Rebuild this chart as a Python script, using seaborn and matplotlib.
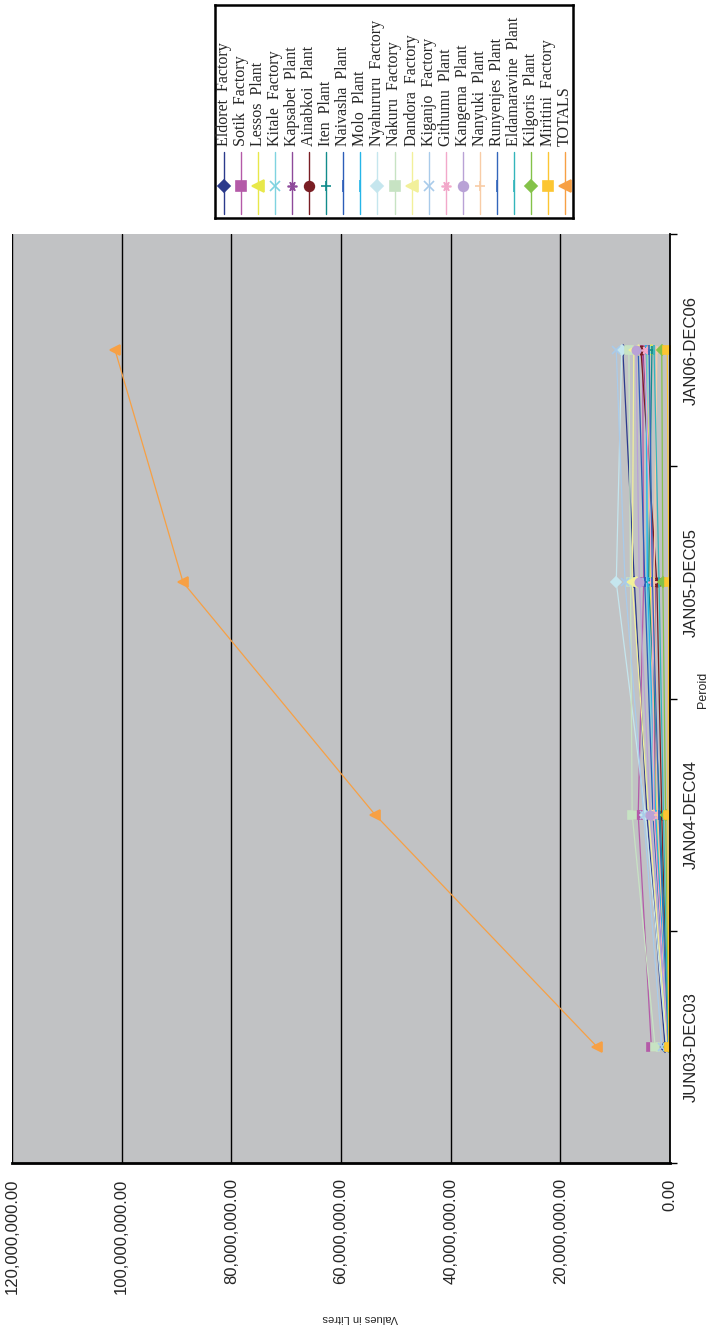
import numpy as np
import pandas as pd
import matplotlib
matplotlib.use("Agg")
import matplotlib.pyplot as plt
from matplotlib.ticker import FuncFormatter, FixedLocator
import seaborn as sns

# ---- data (litres) ----
periods = ["JUN03-DEC03", "JAN04-DEC04", "JAN05-DEC05", "JAN06-DEC06"]

plants = ["Eldoret  Factory", "Sotik  Factory", "Lessos  Plant", "Kitale  Factory",
          "Kapsabet  Plant", "Ainabkoi  Plant", "Iten  Plant", "Naivasha  Plant",
          "Molo  Plant", "Nyahururu  Factory", "Nakuru  Factory", "Dandora  Factory",
          "Kiganjo  Factory", "Githumu  Plant", "Kangema  Plant", "Nanyuki  Plant",
          "Runyenjes  Plant", "Eldamaravine  Plant", "Kilgoris  Plant",
          "Miritini  Factory", "TOTALS"]

# millions of litres per period, one list per plant
eldoret      = [0.9, 4.2, 6.5, 8.6]
sotik        = [3.4, 5.8, 4.8, 5.0]
lessos       = [0.3, 2.5, 3.6, 4.2]
kitale       = [0.6, 3.0, 4.3, 4.0]
kapsabet     = [0.4, 2.8, 2.7, 4.9]
ainabkoi     = [0.4, 1.5, 2.4, 5.3]
iten         = [0.3, 1.8, 3.9, 3.3]
naivasha     = [0.3, 3.1, 4.6, 5.8]
molo         = [0.3, 2.6, 4.1, 4.4]
nyahururu    = [0.6, 4.5, 9.8, 8.8]
nakuru       = [2.7, 6.9, 7.2, 7.5]
dandora      = [0.5, 3.9, 6.9, 6.6]
kiganjo      = [1.5, 4.8, 8.2, 9.8]
githumu      = [0.4, 2.9, 3.3, 4.6]
kangema      = [0.3, 3.6, 5.6, 6.2]
nanyuki      = [0.3, 2.2, 2.9, 2.4]
runyenjes    = [0.3, 2.0, 3.2, 3.8]
eldamaravine = [0.3, 1.2, 2.0, 2.9]
kilgoris     = [0.2, 0.8, 1.3, 1.5]
miritini     = [0.2, 0.4, 0.2, 0.5]
totals       = [13.3, 53.8, 88.8, 101.2]

series_values = [eldoret, sotik, lessos, kitale, kapsabet, ainabkoi, iten, naivasha,
                 molo, nyahururu, nakuru, dandora, kiganjo, githumu, kangema, nanyuki,
                 runyenjes, eldamaravine, kilgoris, miritini, totals]

value_ticks = [0, 20e6, 40e6, 60e6, 80e6, 100e6, 120e6]

colors = ["#2B3A8C", "#B45AA8", "#E8E84A", "#7FD3E0", "#8E4A9A", "#7A1E24", "#128C8C",
          "#2C5DB8", "#25B5E8", "#C5E6EE", "#C7E3C3", "#F2F09A", "#A9CBEA", "#F2A8CA",
          "#B9A2D6", "#F8CCA6", "#3366BB", "#33B5BB", "#84C249", "#FCC632", "#F7A044"]
star = (6, 2, 90)
markers = ["D", "s", "<", "x", star, "o", "+", "|", "|",
           "D", "s", "<", "x", star, "o", "+", "|", "|",
           "D", "s", "<"]
msizes = [5, 6, 7, 6, 6, 6, 6, 7, 7, 5, 6, 7, 6, 6, 6, 6, 7, 7, 5, 6, 7]

rows = []
for name, vals in zip(plants, series_values):
    for i, (p, v) in enumerate(zip(periods, vals)):
        rows.append({"plant": name, "period": p, "pos": i + 1, "litres": v * 1e6})
df = pd.DataFrame(rows)

# ---- figure ----
sns.set_style("white")
plt.rcParams["font.family"] = ["Liberation Sans", "DejaVu Sans"]

W, H = 711, 1331
fig = plt.figure(figsize=(W / 100, H / 100), dpi=100)
fig.patch.set_facecolor("white")

def box(x0, y0, x1, y1):
    return [x0 / W, 1 - y1 / H, (x1 - x0) / W, (y1 - y0) / H]

ax = fig.add_axes(box(12, 234, 670, 1163))
ax.set_facecolor("#C1C2C4")

for name, col, mk, ms in zip(plants, colors, markers, msizes):
    sub = df[df["plant"] == name]
    sns.lineplot(data=sub, x="litres", y="pos", orient="y", sort=False,
                 color=col, marker=mk, markersize=ms, markeredgecolor=col,
                 markeredgewidth=1.2, linewidth=0.9, ax=ax, legend=False,
                 errorbar=None)

# value axis: horizontal, running from 120M on the left to 0 on the right
ax.set_xlim(120e6, 0)
ax.xaxis.set_major_locator(FixedLocator(value_ticks))
ax.xaxis.set_major_formatter(FuncFormatter(lambda v, _: f"{v:,.2f}"))
ax.grid(axis="x", color="black", linewidth=1.0)
ax.grid(axis="y", visible=False)
ax.tick_params(axis="x", direction="out", length=5, width=1.3, color="black",
               labelsize=12, labelrotation=90, pad=6)
for t in ax.get_xticklabels():
    t.set_va("top")

# category axis: vertical on the right
ax.set_ylim(0.5, 4.5)
ax.yaxis.tick_right()
ax.set_yticks([0.5, 1.5, 2.5, 3.5, 4.5])
ax.set_yticklabels([])
ax.set_yticks([1, 2, 3, 4], minor=True)
ax.set_yticklabels(periods, minor=True)
ax.tick_params(axis="y", which="major", direction="out", length=5, width=1.0,
               color="black", right=True, left=False)
ax.tick_params(axis="y", which="minor", length=0, labelsize=12, pad=10,
               right=True, left=False, labelright=True, labelleft=False)
for t in ax.get_yticklabels(minor=True):
    t.set_rotation(90)
    t.set_va("center")
    t.set_ha("left")

ax.set_xlabel("")
ax.set_ylabel("")
for s in ["top", "left"]:
    ax.spines[s].set_visible(False)
ax.spines["bottom"].set_color("black")
ax.spines["bottom"].set_linewidth(2.0)
ax.spines["right"].set_color("black")
ax.spines["right"].set_linewidth(1.3)

fig.text(360 / W, 1 - 1318 / H, "Values in Litres", rotation=180, ha="center",
         va="center", fontsize=8)
fig.text(703 / W, 1 - 690 / H, "Peroid", rotation=90, ha="center", va="center",
         fontsize=9)

# ---- legend panel ----
lx0, lx1, ly0, ly1 = 215, 573, 5, 218
lax = fig.add_axes(box(lx0, ly0, lx1, ly1))
lax.set_xlim(lx0, lx1)
lax.set_ylim(ly1, ly0)
lax.set_xticks([])
lax.set_yticks([])
lax.set_facecolor("white")
for s in lax.spines.values():
    s.set_color("black")
    s.set_linewidth(1.8)

xs = np.linspace(224, 565, len(plants))
for x, name, col, mk, ms in zip(xs, plants, colors, markers, msizes):
    lax.plot([x, x], [152, 214], color=col, linewidth=1.0)
    lax.plot([x], [186], marker=mk, markersize=ms + 1, color=col,
             markeredgecolor=col, markeredgewidth=1.2)
    lax.text(x, 146, name, rotation=90, ha="center", va="bottom",
             fontsize=11.5, family=["Liberation Serif", "DejaVu Serif"])

fig.savefig("out.png", dpi=100)
